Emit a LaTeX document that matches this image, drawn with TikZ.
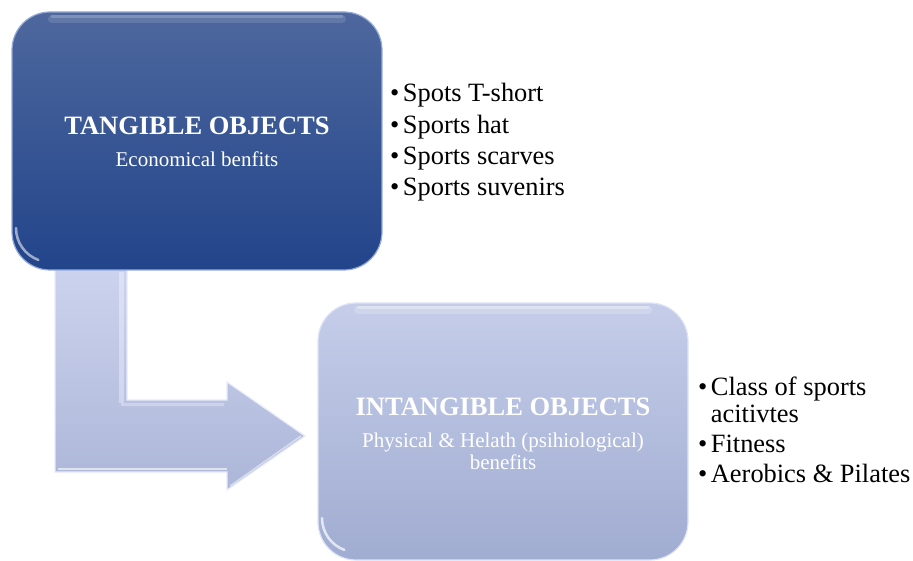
\documentclass[tikz,border=0pt]{standalone}
\usepackage{fontspec}
\setmainfont{Liberation Serif}
\definecolor{navytop}{RGB}{78,104,158}
\definecolor{navybot}{RGB}{34,68,138}
\definecolor{navyedge}{RGB}{150,170,215}
\definecolor{lavtop}{RGB}{197,205,233}
\definecolor{lavbot}{RGB}{160,172,209}
\definecolor{lavedge}{RGB}{222,228,246}
\definecolor{arrtop}{RGB}{204,211,238}
\definecolor{arrbot}{RGB}{172,182,216}
\definecolor{arredge}{RGB}{232,236,250}
\begin{document}
\begin{tikzpicture}[x=1pt,y=-1pt,
  panel/.style={rectangle, rounded corners=38pt, minimum width=370pt,
    inner sep=0pt, line width=1.2pt},
  darkpanel/.style={panel, minimum height=258pt, top color=navytop,
    bottom color=navybot, draw=navyedge},
  lightpanel/.style={panel, minimum height=257pt, top color=lavtop,
    bottom color=lavbot, draw=lavedge},
  headtext/.style={anchor=base, inner sep=0pt, text=white,
    font=\fontsize{26.5}{30}\selectfont\bfseries},
  subtext/.style={anchor=base, inner sep=0pt, text=white,
    font=\fontsize{21}{22}\selectfont},
  listtext/.style={anchor=base west, inner sep=0pt, text=black},
  gloss/.style={white, line cap=round},
]
\useasboundingbox (0,0) rectangle (913,561);

% bent arrow leading from the upper panel down and across to the lower one
\shade[top color=arrtop, bottom color=arrbot, draw=arredge, line width=1.2pt,
  line join=miter]
  (55,266) -- (127,266) -- (127,400) -- (227,400) -- (227,382)
  -- (305,436) -- (227,490) -- (227,472) -- (55,472) -- cycle;
% bevel light along the inner edges
\draw[white, opacity=0.35, line width=5pt] (121,272) -- (121,403);
\draw[white, opacity=0.3, line width=3pt] (121,404) -- (224,404);
\draw[white, opacity=0.6, line width=1.5pt] (58,469) -- (227,469);
\draw[white, opacity=0.5, line width=1.5pt] (230,486) -- (301,436);

% panels
\node[darkpanel] (tang) at (197,141) {};
\node[lightpanel] (intang) at (503,431.5) {};

% glossy highlights
\draw[gloss, opacity=0.12, line width=8pt] (52,19) -- (342,19);
\draw[gloss, opacity=0.18, line width=3pt] (52,17) -- (342,17);
\draw[gloss, opacity=0.55, line width=2.5pt] (16,228) arc[start angle=180, end angle=110, radius=34];
\draw[gloss, opacity=0.2, line width=8pt] (358,310) -- (648,310);
\draw[gloss, opacity=0.3, line width=3pt] (358,308) -- (648,308);
\draw[gloss, opacity=0.7, line width=2.5pt] (322,518) arc[start angle=180, end angle=110, radius=34];

% panel captions
\node[headtext] (tangT) at (197,135) {TANGIBLE OBJECTS};
\node[subtext] (tangS) at (197,167) {Economical benfits};
\node[headtext] (intangT) at (503,415) {INTANGIBLE OBJECTS};
\node[subtext] (intangS1) at (503,447) {Physical \& Helath (psihiological)};
\node[subtext] (intangS2) at (503,469) {benefits};

% bullet lists
\node[listtext] (tangList) at (390,102) {\fontsize{26.4}{31.3}\selectfont
  \begin{tabular}[t]{@{}l@{\hspace{3.5pt}}l@{}}
  \textbullet & Spots T-short\\
  \textbullet & Sports hat\\
  \textbullet & Sports scarves\\
  \textbullet & Sports suvenirs
  \end{tabular}};
\node[listtext] (intangList) at (698,395) {\fontsize{26.4}{28}\selectfont
  \begin{tabular}[t]{@{}l@{\hspace{3.5pt}}l@{}}
  \textbullet & Class of sports\\
              & acitivtes\\[2pt]
  \textbullet & Fitness\\[2pt]
  \textbullet & Aerobics \& Pilates
  \end{tabular}};
\end{tikzpicture}
\end{document}
